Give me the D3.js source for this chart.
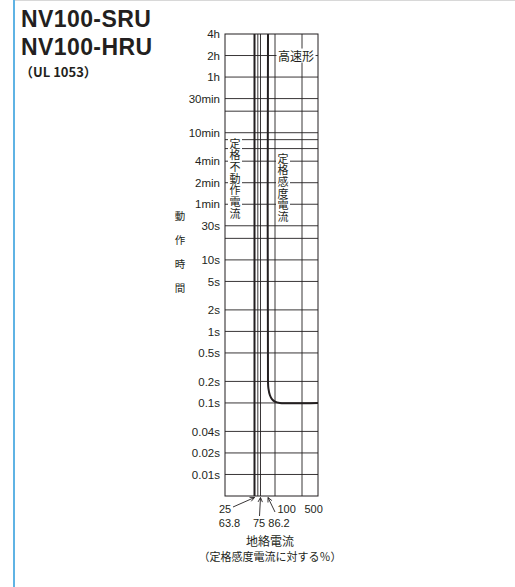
<!DOCTYPE html>
<html>
<head>
<meta charset="utf-8">
<script src="https://cdn.jsdelivr.net/npm/d3@7"></script>
<style>
  html, body { margin: 0; padding: 0; background: #fff; }
  svg { display: block; }
</style>
</head>
<body>
<svg id="chart" width="515" height="587"></svg>
<script>
// Ground-fault current, % of rated sensitivity current (schematic axis)
const xBreaks = [25, 63.8, 75, 86.2, 100, 500, 1000];
const xGridLines = [70, 75, 100, 500];
const xTickTop = [25, 100, 500];
const xTickArrows = [63.8, 75, 86.2];

// Operating time, seconds (log axis)
const yGridLines = [0.01, 0.02, 0.04, 0.1, 0.2, 0.5, 1, 2, 5, 10, 20, 30, 60, 120, 240, 360, 480, 600, 1200, 1800, 3600, 7200];
const yTickValues = [14400, 7200, 3600, 1800, 600, 240, 120, 60, 30, 10, 5, 2, 1, 0.5, 0.2, 0.1, 0.04, 0.02, 0.01];
const yTickLabels = ["4h", "2h", "1h", "30min", "10min", "4min", "2min", "1min", "30s", "10s", "5s", "2s", "1s", "0.5s", "0.2s", "0.1s", "0.04s", "0.02s", "0.01s"];

// Rated non-operating current boundary
const nonOperating = [[63.8, 14400], [63.8, 0.005]];
// High-speed type operating characteristic
const operating = [[86.2, 14400], [86.2, 0.2], [87, 0.16], [90, 0.128], [94, 0.113], [100, 0.104], [170, 0.1], [1000, 0.1]];

const titleLines = ["NV100-SRU", "NV100-HRU"];
const subTitle = "（UL 1053）";

const svg = d3.select("#chart");
const INK = "#231f20";
const latin = "'Liberation Sans', Arial, sans-serif";
const cjk = "'Noto Sans CJK JP', sans-serif";

// left blue rule and faint top rule of the panel
svg.append("line").attr("x1", 14).attr("x2", 14).attr("y1", 0).attr("y2", 587)
  .attr("stroke", "#5fb3e4").attr("stroke-width", 2);
svg.append("line").attr("x1", 15).attr("x2", 515).attr("y1", 0.5).attr("y2", 0.5)
  .attr("stroke", "#d8d8d8").attr("stroke-width", 1);

// titles
svg.selectAll("text.title").data(titleLines).join("text")
  .attr("class", "title")
  .attr("x", 21).attr("y", (d, i) => 27 + i * 28)
  .attr("font-family", latin).attr("font-weight", "bold")
  .attr("font-size", 23).attr("fill", INK).attr("letter-spacing", 0.4)
  .text(d => d);
svg.append("text").attr("x", 20).attr("y", 77)
  .attr("font-family", cjk).attr("font-weight", "bold")
  .attr("font-size", 13).attr("fill", INK)
  .text(subTitle);

// scales
const plot = { left: 225, right: 318, top: 34, bottom: 496 };
const xRange = [225, 254.5, 260.5, 268, 275, 302, 318];
const x = d3.scaleLinear().domain(xBreaks).range(xRange);
const y = d3.scaleLog().domain([0.005, 14400]).range([plot.bottom, plot.top]);

const g = svg.append("g");

// horizontal grid
g.selectAll("line.hg").data(yGridLines).join("line")
  .attr("class", "hg")
  .attr("x1", plot.left).attr("x2", plot.right)
  .attr("y1", d => y(d)).attr("y2", d => y(d))
  .attr("stroke", INK).attr("stroke-width", 0.9);

// vertical grid
g.selectAll("line.vg").data(xGridLines).join("line")
  .attr("class", "vg")
  .attr("x1", d => x(d)).attr("x2", d => x(d))
  .attr("y1", plot.top).attr("y2", plot.bottom)
  .attr("stroke", INK).attr("stroke-width", 0.9);

// frame
g.append("rect")
  .attr("x", plot.left).attr("y", plot.top)
  .attr("width", plot.right - plot.left).attr("height", plot.bottom - plot.top)
  .attr("fill", "none").attr("stroke", INK).attr("stroke-width", 1);

// characteristic curves
const line = d3.line().x(d => x(d[0])).y(d => y(d[1])).curve(d3.curveCatmullRom.alpha(0.5));
g.append("path").datum(nonOperating).attr("d", line)
  .attr("fill", "none").attr("stroke", INK).attr("stroke-width", 2);
g.append("path").datum(operating).attr("d", line)
  .attr("fill", "none").attr("stroke", INK).attr("stroke-width", 2);

// y tick labels
const yAxis = d3.axisLeft(y).tickValues(yTickValues)
  .tickFormat((d, i) => yTickLabels[i]).tickSize(0).tickPadding(5);
const ya = svg.append("g").attr("transform", `translate(${plot.left},0)`).call(yAxis);
ya.select(".domain").remove();
ya.selectAll("text").attr("font-family", latin).attr("font-size", 11.5).attr("fill", INK);

// vertical in-plot labels with white backing
function verticalLabel(text, cx, yTop, size, spacing) {
  const n = Array.from(text).length;
  const h = n * (size + spacing);
  const lg = svg.append("g");
  lg.append("rect")
    .attr("x", cx - size / 2 - 1.5).attr("y", yTop - 1)
    .attr("width", size + 3).attr("height", h + 2)
    .attr("fill", "#fff");
  lg.append("text")
    .attr("x", cx).attr("y", yTop)
    .style("writing-mode", "vertical-rl")
    .attr("letter-spacing", spacing)
    .attr("font-family", cjk).attr("font-size", size).attr("fill", INK)
    .text(text);
}
verticalLabel("定格不動作電流", 235, 138, 11, 0.7);
verticalLabel("定格感度電流", 283, 153, 11, 0.7);

// 高速形 label on the 2h line
const hs = svg.append("g");
hs.append("rect").attr("x", 276.5).attr("y", y(7200) - 7).attr("width", 39).attr("height", 14).attr("fill", "#fff");
hs.append("text").attr("x", 296).attr("y", y(7200)).attr("dominant-baseline", "central")
  .attr("text-anchor", "middle").attr("font-family", cjk).attr("font-size", 12).attr("fill", INK)
  .text("高速形");

// y axis title
svg.selectAll("text.ytitle").data(Array.from("動作時間")).join("text")
  .attr("class", "ytitle")
  .attr("x", 180).attr("y", (d, i) => 215 + i * 24)
  .attr("text-anchor", "middle").attr("dominant-baseline", "central")
  .attr("font-family", cjk).attr("font-size", 10.5).attr("fill", INK)
  .text(d => d);

// x tick labels, first row
svg.selectAll("text.xt").data(xTickTop).join("text")
  .attr("class", "xt")
  .attr("x", (d, i) => i === 0 ? x(d) : x(d) + 2.5)
  .attr("y", 513)
  .attr("text-anchor", (d, i) => i === 0 ? "middle" : "start")
  .attr("font-family", latin).attr("font-size", 11).attr("fill", INK)
  .text(d => d);

// x tick labels with pointer arrows, second row
const arrowLabelX = [229.5, 259, 279];
const arrowTail = [[233, 507], [259.5, 516], [275, 512]];
svg.selectAll("text.xa").data(xTickArrows).join("text")
  .attr("class", "xa")
  .attr("x", (d, i) => arrowLabelX[i]).attr("y", 527)
  .attr("text-anchor", "middle")
  .attr("font-family", latin).attr("font-size", 11).attr("fill", INK)
  .text(d => d);

xTickArrows.forEach((v, i) => {
  const [tx, ty] = arrowTail[i];
  const hx = x(v), hy = plot.bottom + 1.5;
  const ang = Math.atan2(hy - ty, hx - tx);
  const L = 5, a = 0.45;
  const ag = svg.append("g").attr("stroke", INK).attr("stroke-width", 0.9).attr("fill", "none");
  ag.append("line").attr("x1", tx).attr("y1", ty).attr("x2", hx).attr("y2", hy);
  ag.append("path").attr("d",
    `M${hx - L * Math.cos(ang - a)},${hy - L * Math.sin(ang - a)}L${hx},${hy}L${hx - L * Math.cos(ang + a)},${hy - L * Math.sin(ang + a)}`);
});

// x axis title
svg.append("text").attr("x", 270).attr("y", 546).attr("text-anchor", "middle")
  .attr("font-family", cjk).attr("font-size", 12).attr("fill", INK).text("地絡電流");
svg.append("text").attr("x", 270).attr("y", 561).attr("text-anchor", "middle")
  .attr("font-family", cjk).attr("font-size", 11).attr("fill", INK).text("（定格感度電流に対する％）");
</script>
</body>
</html>
